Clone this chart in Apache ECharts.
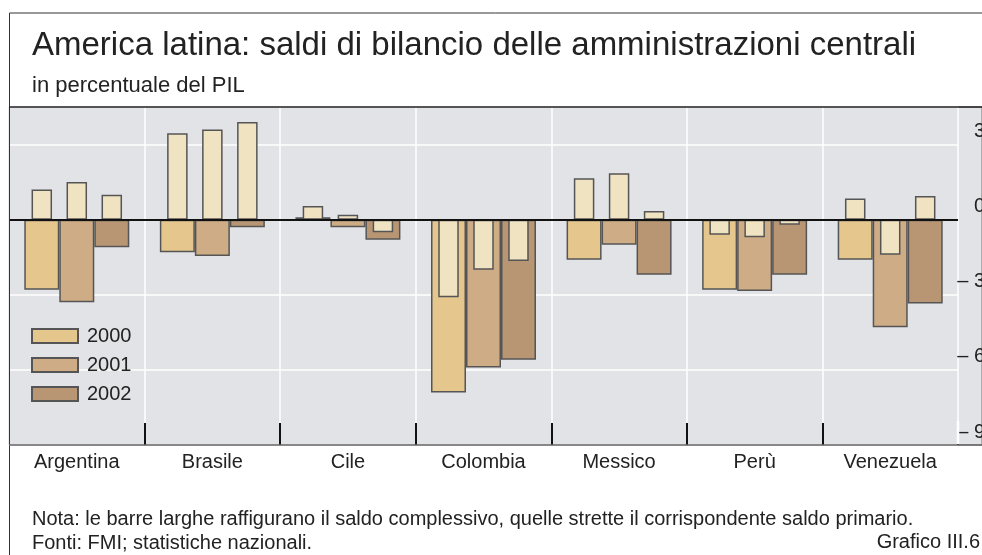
<!DOCTYPE html>
<html>
<head>
<meta charset="utf-8">
<script src="https://cdn.jsdelivr.net/npm/echarts@6/dist/echarts.min.js"></script>
<style>
  html, body { margin: 0; padding: 0; background: #fff; }
  #chart { width: 982px; height: 555px; }
</style>
</head>
<body>
<div id="chart"></div>
<script>
// paesi
var categories = ['Argentina', 'Brasile', 'Cile', 'Colombia', 'Messico', 'Perù', 'Venezuela'];
var years = ['2000', '2001', '2002'];
// saldo complessivo (barre larghe)
var overall2000 = [-2.8, -1.3, 0.1, -6.9, -1.6, -2.8, -1.6];
var overall2001 = [-3.3, -1.45, -0.3, -5.9, -1.0, -2.85, -4.3];
var overall2002 = [-1.1, -0.3, -0.8, -5.6, -2.2, -2.2, -3.35];
// saldo primario (barre strette)
var primary2000 = [1.2, 3.45, 0.55, -3.1, 1.65, -0.6, 0.85];
var primary2001 = [1.5, 3.6, 0.2, -2.0, 1.85, -0.7, -1.4];
var primary2002 = [1.0, 3.9, -0.5, -1.65, 0.35, -0.2, 0.95];
var yTicks = [-9, -6, -3, 0, 3];

var FONT = 'Liberation Sans';
var wideColors = ['#e5c68c', '#ceac85', '#b89673'];
var narrowColor = '#f0e3c1';
var overall = [overall2000, overall2001, overall2002];
var primary = [primary2000, primary2001, primary2002];

var series = [];
years.forEach(function (y, i) {
  series.push({
    name: y,
    type: 'bar',
    xAxisIndex: 0,
    data: overall[i],
    barWidth: 35,
    barGap: '0%',
    itemStyle: { color: wideColors[i], borderColor: '#555', borderWidth: 1.5 },
    markLine: i === 0 ? {
      silent: true, symbol: 'none', label: { show: false },
      lineStyle: { color: '#111', width: 2, type: 'solid' },
      data: [{ yAxis: 0 }]
    } : undefined
  });
});
years.forEach(function (y, i) {
  series.push({
    name: 'primario ' + y,
    type: 'bar',
    xAxisIndex: 1,
    data: primary[i],
    barWidth: 20.5,
    barGap: '70.7%',
    itemStyle: { color: narrowColor, borderColor: '#555', borderWidth: 1.5 }
  });
});

var chart = echarts.init(document.getElementById('chart'));
chart.setOption({
  animation: false,
  textStyle: { fontFamily: FONT, color: '#222' },
  graphic: [
    { type: 'rect', shape: { x: 9, y: 107, width: 973, height: 338 }, style: { fill: '#e2e3e7' }, z: -10 },
    { type: 'line', shape: { x1: 9.5, y1: 13, x2: 982, y2: 13 }, style: { stroke: '#333', lineWidth: 1 }, z: 100 },
    { type: 'line', shape: { x1: 9.5, y1: 13, x2: 9.5, y2: 555 }, style: { stroke: '#333', lineWidth: 1 }, z: 100 },
    { type: 'line', shape: { x1: 9, y1: 107, x2: 982, y2: 107 }, style: { stroke: '#222', lineWidth: 1.5 }, z: 100 },
    // copre la tacca finale del bordo destro (nell'originale c'è solo la griglia bianca)
    { type: 'line', shape: { x1: 958, y1: 421, x2: 958, y2: 444 }, style: { stroke: '#fff', lineWidth: 2.5 }, z: 99 },
    { type: 'line', shape: { x1: 9, y1: 445, x2: 982, y2: 445 }, style: { stroke: '#666', lineWidth: 1.5 }, z: 100 }
  ],
  title: [
    { text: 'America latina: saldi di bilancio delle amministrazioni centrali', left: 27, top: 24,
      textStyle: { fontFamily: FONT, fontSize: 33, fontWeight: 'normal', color: '#222' } },
    { text: 'in percentuale del PIL', left: 27, top: 70,
      textStyle: { fontFamily: FONT, fontSize: 22, fontWeight: 'normal', color: '#222' } },
    { text: 'Nota: le barre larghe raffigurano il saldo complessivo, quelle strette il corrispondente saldo primario.', left: 27, top: 504,
      textStyle: { fontFamily: FONT, fontSize: 20, fontWeight: 'normal', color: '#222' } },
    { text: 'Fonti: FMI; statistiche nazionali.', left: 27, top: 528,
      textStyle: { fontFamily: FONT, fontSize: 20, fontWeight: 'normal', color: '#222' } },
    { text: 'Grafico III.6', right: 2, top: 532, padding: 0,
      textStyle: { fontFamily: FONT, fontSize: 20, fontWeight: 'normal', color: '#222' } }
  ],
  legend: {
    data: years,
    orient: 'vertical',
    left: 31, top: 326, padding: 0,
    itemWidth: 46, itemHeight: 14, itemGap: 9,
    icon: 'rect',
    textStyle: { fontFamily: FONT, fontSize: 20, color: '#222', padding: [0, 0, 0, 4] }
  },
  grid: { left: 9, right: 24, top: 107, bottom: 110, outerBoundsMode: 'none' },
  xAxis: [{
    type: 'category',
    data: categories,
    axisLine: { show: false, onZero: false },
    axisTick: {
      show: true, inside: true, length: 22,
      interval: function (idx) { return idx > 0 && idx < categories.length; },
      lineStyle: { color: '#111', width: 2 }
    },
    axisLabel: { fontFamily: FONT, fontSize: 20, color: '#222', margin: 7 },
    splitLine: { show: true, lineStyle: { color: '#fff', width: 1.5 } }
  }, {
    type: 'category',
    data: categories,
    show: false
  }],
  yAxis: {
    type: 'value',
    position: 'right',
    min: -9, max: 4.5, interval: 3,
    axisLine: { show: false },
    axisTick: { show: false },
    axisLabel: {
      fontFamily: FONT, fontSize: 20, color: '#222',
      align: 'right', margin: 27, verticalAlign: 'bottom', padding: [0, 0, 3, 0],
      formatter: function (v) {
        if (yTicks.indexOf(v) < 0) return '';
        return v < 0 ? '– ' + Math.abs(v) : String(v);
      }
    },
    splitLine: { show: true, lineStyle: { color: '#fff', width: 1.5 } }
  },
  series: series
});

// prolungamento grigio della linea dello zero oltre l'area del grafico
var y0 = chart.convertToPixel({ yAxisIndex: 0 }, 0);
chart.setOption({
  graphic: [{ type: 'line', shape: { x1: 958, y1: y0, x2: 982, y2: y0 }, style: { stroke: '#777', lineWidth: 1 } }]
});
</script>
</body>
</html>
